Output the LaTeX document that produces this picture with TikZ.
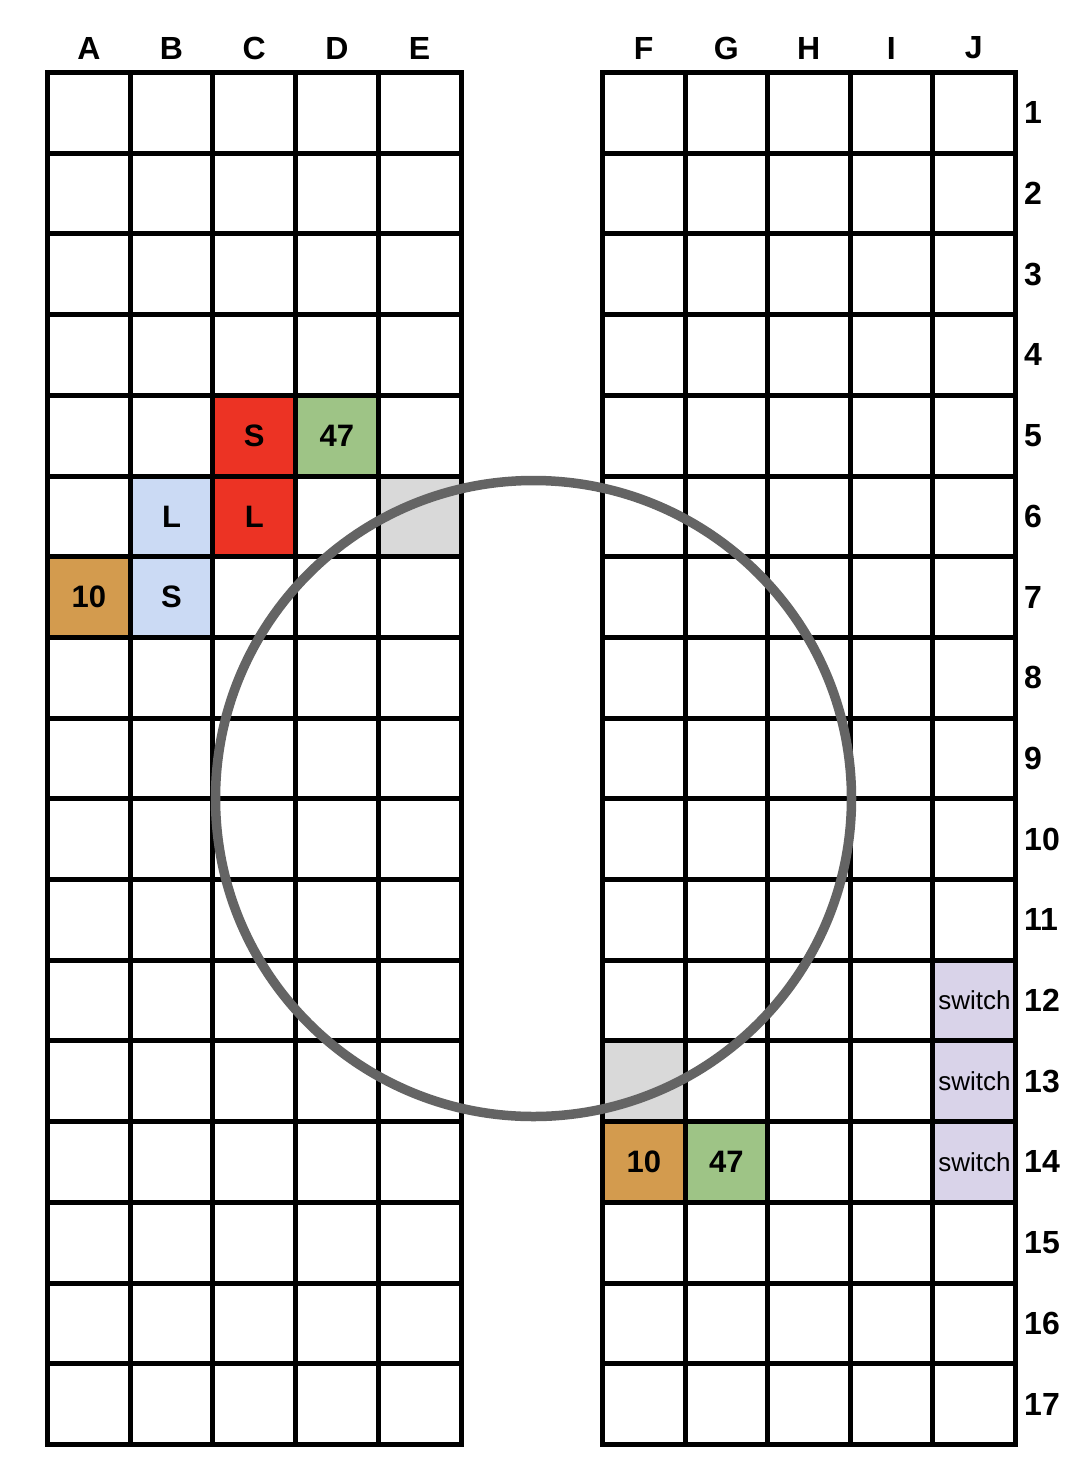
\documentclass[tikz,border=0pt]{standalone}
\usepackage{fontspec}
\setmainfont{Liberation Sans}
\definecolor{cred}{HTML}{EC3324}
\definecolor{cgreen}{HTML}{9EC486}
\definecolor{cblue}{HTML}{CBDAF4}
\definecolor{corange}{HTML}{D39B4E}
\definecolor{clgray}{HTML}{D9D9D9}
\definecolor{clav}{HTML}{D9D3E9}
\definecolor{cring}{HTML}{646464}
\begin{document}
\begin{tikzpicture}[x=1pt,y=-1pt,
  gridline/.style={line width=5pt, black, line cap=rect},
  hdr/.style={font=\fontsize{32}{32}\selectfont\bfseries, inner sep=0pt},
  cellbox/.style={minimum width=82.6pt, minimum height=80.7pt, inner sep=0pt, draw=none, font=\fontsize{31}{31}\selectfont\bfseries},
  swbox/.style={cellbox, fill=clav, font=\fontsize{26}{26}\selectfont}]
\useasboundingbox (0,0) rectangle (1082,1478);
\fill[white] (0,0) rectangle (1082,1478);
% column headers
\foreach \l [count=\i from 0] in {A,B,C,D,E}
  \node[hdr] (h\l) at ({47.5+82.7*(\i+0.5)}, 48) {\l};
\foreach \l [count=\i from 0] in {F,G,H,I,J}
  \node[hdr] (h\l) at ({602.5+82.5*(\i+0.5)}, 48) {\l};
% row labels
\foreach \r in {1,...,17}
  \node[hdr, anchor=west] (r\r) at (1024, {72.5+80.7*(\r-0.5)}) {\r};
% coloured cells (left)
\node[cellbox, fill=cred] (C5) at (254.25, 435.65) {S};
\node[cellbox, fill=cgreen] (D5) at (336.95, 435.65) {47};
\node[cellbox, fill=cblue] (B6) at (171.55, 516.35) {L};
\node[cellbox, fill=cred] (C6) at (254.25, 516.35) {L};
\node[cellbox, fill=clgray] (E6) at (419.65, 516.35) {};
\node[cellbox, fill=corange] (A7) at (88.85, 597.05) {10};
\node[cellbox, fill=cblue] (B7) at (171.55, 597.05) {S};
% coloured cells (right)
\node[cellbox, minimum width=82.5pt, fill=clgray] (F13) at (643.75, 1081.25) {};
\node[cellbox, minimum width=82.5pt, fill=corange] (F14) at (643.75, 1161.95) {10};
\node[cellbox, minimum width=82.5pt, fill=cgreen] (G14) at (726.25, 1161.95) {47};
\node[swbox, minimum width=82.5pt] (J12) at (974.5, 1000.55) {switch};
\node[swbox, minimum width=82.5pt] (J13) at (974.5, 1081.25) {switch};
\node[swbox, minimum width=82.5pt] (J14) at (974.5, 1161.95) {switch};
% grids
\foreach \i in {0,...,5} {
  \draw[gridline] ({47.5+82.7*\i},72.5) -- ({47.5+82.7*\i},1444.5);
  \draw[gridline] ({602.5+82.5*\i},72.5) -- ({602.5+82.5*\i},1444.5);
}
\foreach \r in {0,...,17} {
  \draw[gridline] (47.5,{72.5+80.7*\r}) -- (461,{72.5+80.7*\r});
  \draw[gridline] (602.5,{72.5+80.7*\r}) -- (1015,{72.5+80.7*\r});
}
% ring
\node[draw=cring, line width=9.5pt, circle, minimum size=636pt, inner sep=0pt] (ring) at (533.5,798.5) {};
\end{tikzpicture}
\end{document}
